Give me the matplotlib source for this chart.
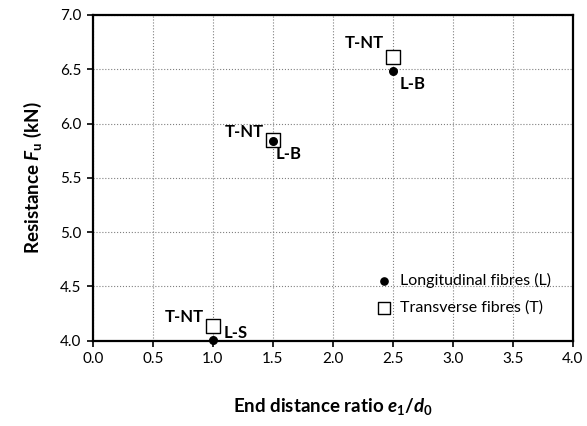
import matplotlib
matplotlib.use("Agg")
import matplotlib.pyplot as plt

plt.rcParams['font.family'] = ['Lato', 'DejaVu Sans']
plt.rcParams['mathtext.fontset'] = 'custom'
plt.rcParams['mathtext.rm'] = 'Lato:bold'
plt.rcParams['mathtext.it'] = 'Lato:italic:bold'
plt.rcParams['mathtext.bf'] = 'Lato:bold'

# data
ratio = [1.0, 1.5, 2.5]
long_fu = [4.01, 5.84, 6.48]     # Longitudinal fibres (L)
trans_fu = [4.14, 5.85, 6.61]    # Transverse fibres (T)
long_tags = ['L-S', 'L-B', 'L-B']
trans_tags = ['T-NT', 'T-NT', 'T-NT']

# label offsets (points), like the hand-placed Excel labels
long_off = [(8, 5), (2, -9.5), (5, -9)]
trans_off = [(-6.5, 6), (-6.5, 6), (-6.5, 10)]

fig = plt.figure(figsize=(5.87, 4.26), dpi=100)
ax = fig.add_axes([0.158, 0.2, 0.818, 0.765])

ax.scatter(ratio, long_fu, s=30, color='black', zorder=4, clip_on=False,
           label='Longitudinal fibres (L)')
ax.scatter(ratio, trans_fu, s=90, marker='s', facecolor='white',
           edgecolor='black', linewidth=1.0, zorder=3, clip_on=False,
           label='Transverse fibres (T)')

for x, y, t, off in zip(ratio, long_fu, long_tags, long_off):
    ax.annotate(t, (x, y), xytext=off, textcoords='offset points',
                ha='left', va='center', fontsize=12, fontweight='bold')
for x, y, t, off in zip(ratio, trans_fu, trans_tags, trans_off):
    ax.annotate(t, (x, y), xytext=off, textcoords='offset points',
                ha='right', va='center', fontsize=12, fontweight='bold')

ax.set_xlim(0, 4)
ax.set_ylim(4, 7)
ax.set_xticks([i * 0.5 for i in range(9)])
ax.set_yticks([4 + i * 0.5 for i in range(7)])
ax.xaxis.set_major_formatter(lambda v, p: f'{v:.1f}')
ax.yaxis.set_major_formatter(lambda v, p: f'{v:.1f}')
ax.tick_params(direction='out', length=4, width=1.2, labelsize=11, pad=4)
ax.grid(True, linestyle=':', color='#808080', linewidth=0.8)
ax.set_axisbelow(True)
for s in ax.spines.values():
    s.set_linewidth(1.6)

ax.set_xlabel(r'End distance ratio $\mathit{e}_\mathrm{1}/\mathit{d}_\mathrm{0}$',
              fontsize=13.5, fontweight='bold', labelpad=22)
ax.set_ylabel(r'Resistance $\mathit{F}_\mathrm{u}$ (kN)',
              fontsize=13.5, fontweight='bold', labelpad=12)

ax.legend(loc='lower right', bbox_to_anchor=(0.985, 0.035), frameon=False,
          fontsize=11.5, handletextpad=0.05, labelspacing=0.8,
          scatterpoints=1, markerscale=0.95)

fig.savefig('out.png', dpi=100)
